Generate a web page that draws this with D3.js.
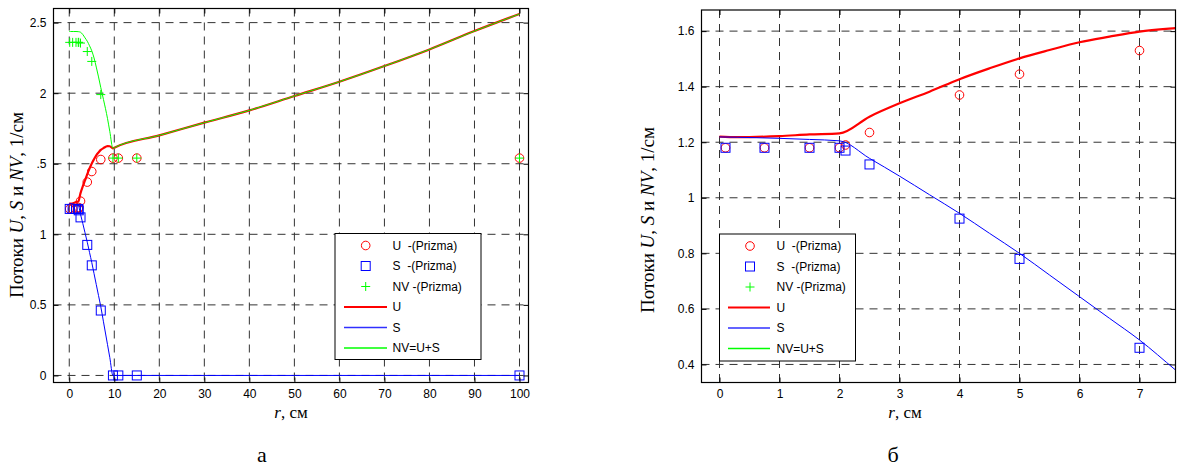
<!DOCTYPE html>
<html>
<head>
<meta charset="utf-8">
<script src="https://cdn.jsdelivr.net/npm/d3@7"></script>
<style>
body { margin: 0; background: #fff; }
svg { display: block; }
text { font-family: "Liberation Sans", Arial, sans-serif; }
.serif { font-family: "Liberation Serif", "Times New Roman", serif; }
</style>
</head>
<body>
<div id="chart"></div>
<script>
// computed curves (r, cm)
const rCurve  = [0, 0.3, 1, 1.5, 2, 2.5, 3, 3.5, 4, 4.5, 5, 5.5, 6, 6.5, 7, 7.6, 8.5, 9, 9.7, 10, 20, 30, 40, 50, 60, 70, 80, 90, 100];
const uCurve  = [1.220, 1.218, 1.222, 1.228, 1.232, 1.292, 1.340, 1.382, 1.427, 1.466, 1.502, 1.532, 1.560, 1.580, 1.598, 1.611, 1.625, 1.624, 1.609, 1.614, 1.701, 1.791, 1.878, 1.980, 2.081, 2.192, 2.310, 2.440, 2.561];
const sCurve  = [1.219, 1.218, 1.214, 1.210, 1.205, 1.142, 1.078, 1.011, 0.944, 0.872, 0.800, 0.722, 0.644, 0.566, 0.488, 0.380, 0.218, 0.128, 0, 0, 0, 0, 0, 0, 0, 0, 0, 0, 0];
const nvCurve = [2.438, 2.437, 2.437, 2.437, 2.436, 2.432, 2.416, 2.392, 2.368, 2.336, 2.300, 2.250, 2.185, 2.115, 2.040, 1.955, 1.820, 1.730, 1.609, 1.614, 1.701, 1.791, 1.878, 1.980, 2.081, 2.192, 2.310, 2.440, 2.561];

// Prizma points
const rPrizma  = [0.1, 0.75, 1.5, 2.0, 2.1, 2.5, 4, 5, 7, 9.7, 10.9, 15, 100];
const uPrizma  = [1.18, 1.18, 1.18, 1.18, 1.19, 1.235, 1.37, 1.445, 1.53, 1.54, 1.54, 1.54, 1.54];
const sPrizma  = [1.18, 1.18, 1.18, 1.18, 1.17, 1.12, 0.925, 0.78, 0.46, 0, 0, 0, 0];
const nvPrizma = [2.36, 2.36, 2.36, 2.36, 2.36, 2.355, 2.295, 2.225, 1.99, 1.54, 1.54, 1.54, 1.54];

// axes
const xTicksA = [0, 10, 20, 30, 40, 50, 60, 70, 80, 90, 100];
const yTicksA = [0, 0.5, 1, 1.5, 2, 2.5];
const yTickLabelsA = ["0", "0.5", "1", ".5", "2", "2.5"];
const xTicksB = [0, 1, 2, 3, 4, 5, 6, 7];
const yTicksB = [0.4, 0.6, 0.8, 1, 1.2, 1.4, 1.6];
const yTickLabelsB = ["0.4", "0.6", "0.8", "1", "1.2", "1.4", "1.6"];

const legendLabels = ["U  -(Prizma)", "S  -(Prizma)", "NV -(Prizma)", "U", "S", "NV=U+S"];

const RED = "#ff0000", BLUE = "#0000ff", GREEN = "#00ff00";

const svg = d3.select("#chart").append("svg")
    .attr("width", 1184)
    .attr("height", 468);

const curve = rCurve.map((r, i) => ({ r: r, u: uCurve[i], s: sCurve[i], nv: nvCurve[i] }));
const pts = rPrizma.map((r, i) => ({ r: r, u: uPrizma[i], s: sPrizma[i], nv: nvPrizma[i] }));

function drawPanel(p) {
    const x = d3.scaleLinear().domain(p.xDomain).range(p.xRange);
    const y = d3.scaleLinear().domain(p.yDomain).range(p.yRange);
    const g = svg.append("g");
    const left = p.xRange[0], right = p.xRange[1], top = p.yRange[1], bottom = p.yRange[0];

    g.append("clipPath").attr("id", p.id + "-clip")
        .append("rect")
        .attr("x", left).attr("y", top)
        .attr("width", right - left).attr("height", bottom - top);

    // grid
    g.append("g").selectAll("line").data(p.xTicks).join("line")
        .attr("x1", d => x(d)).attr("x2", d => x(d))
        .attr("y1", top).attr("y2", bottom)
        .attr("stroke", "#333").attr("stroke-dasharray", "8,6");
    g.append("g").selectAll("line").data(p.yTicks).join("line")
        .attr("x1", left).attr("x2", right)
        .attr("y1", d => y(d)).attr("y2", d => y(d))
        .attr("stroke", "#333").attr("stroke-dasharray", "8,6");

    const plot = g.append("g").attr("clip-path", `url(#${p.id}-clip)`);

    plot.selectAll("circle.u").data(pts).join("circle")
        .attr("class", "u")
        .attr("cx", d => x(d.r)).attr("cy", d => y(d.u)).attr("r", 4.3)
        .attr("fill", "none").attr("stroke", RED);
    plot.selectAll("rect.s").data(pts).join("rect")
        .attr("class", "s")
        .attr("x", d => x(d.r) - 4.5).attr("y", d => y(d.s) - 4.5)
        .attr("width", 9).attr("height", 9)
        .attr("fill", "none").attr("stroke", BLUE);
    plot.selectAll("path.nv").data(pts).join("path")
        .attr("class", "nv")
        .attr("d", d => `M${x(d.r) - 4.5},${y(d.nv)}h9M${x(d.r)},${y(d.nv) - 4.5}v9`)
        .attr("stroke", GREEN);

    const line = key => d3.line().x(d => x(d.r)).y(d => y(d[key])).curve(d3.curveMonotoneX);
    plot.append("path").datum(curve)
        .attr("fill", "none").attr("stroke", RED).attr("stroke-width", 2.2)
        .attr("d", line("u"));
    plot.append("path").datum(curve)
        .attr("fill", "none").attr("stroke", BLUE).attr("stroke-width", 1)
        .attr("d", line("s"));
    plot.append("path").datum(curve)
        .attr("fill", "none").attr("stroke", GREEN).attr("stroke-width", 1)
        .attr("d", line("nv"));

    // axes, ticks inside on all four sides
    const fmtY = d => p.yLabels[p.yTicks.indexOf(d)];
    const ax = a => a.tickSizeInner(-5).tickSizeOuter(0).tickPadding(7);
    const bx = g.append("g").attr("transform", `translate(0,${bottom})`)
        .call(ax(d3.axisBottom(x).tickValues(p.xTicks).tickFormat(d3.format("d"))));
    const ly = g.append("g").attr("transform", `translate(${left},0)`)
        .call(ax(d3.axisLeft(y).tickValues(p.yTicks).tickFormat(fmtY)));
    const tx = g.append("g").attr("transform", `translate(0,${top})`)
        .call(ax(d3.axisTop(x).tickValues(p.xTicks).tickFormat("")));
    const ry = g.append("g").attr("transform", `translate(${right},0)`)
        .call(ax(d3.axisRight(y).tickValues(p.yTicks).tickFormat("")));
    [bx, ly, tx, ry].forEach(a => {
        a.select(".domain").remove();
        a.selectAll("line").attr("stroke", "#000");
        a.selectAll("text").attr("font-size", 12).attr("fill", "#000")
            .style("font-family", "'Liberation Sans', Arial, sans-serif");
    });

    g.append("rect")
        .attr("x", left).attr("y", top)
        .attr("width", right - left).attr("height", bottom - top)
        .attr("fill", "none").attr("stroke", "#000").attr("stroke-width", 1.2);

    // legend
    const L = p.legend;
    const lg = g.append("g");
    lg.append("rect")
        .attr("x", L.x).attr("y", L.y).attr("width", L.w).attr("height", L.h)
        .attr("fill", "#fff").attr("stroke", "#000");
    const rowY = i => L.y + 12 + i * 20.5;
    lg.append("circle").attr("cx", L.mx).attr("cy", rowY(0)).attr("r", 4.3)
        .attr("fill", "none").attr("stroke", RED);
    lg.append("rect").attr("x", L.mx - 4.5).attr("y", rowY(1) - 4.5).attr("width", 9).attr("height", 9)
        .attr("fill", "none").attr("stroke", BLUE);
    lg.append("path").attr("d", `M${L.mx - 4.5},${rowY(2)}h9M${L.mx},${rowY(2) - 4.5}v9`)
        .attr("stroke", GREEN);
    [[RED, 2.2], ["#3030ff", 1.3], [GREEN, 1.3]].forEach((c, i) => {
        lg.append("line")
            .attr("x1", L.l1).attr("x2", L.l2)
            .attr("y1", rowY(3 + i)).attr("y2", rowY(3 + i))
            .attr("stroke", c[0]).attr("stroke-width", c[1]);
    });
    lg.selectAll("text.lab").data(legendLabels).join("text")
        .attr("class", "lab")
        .attr("x", L.tx).attr("y", (d, i) => rowY(i))
        .attr("dy", "0.36em")
        .attr("font-size", 12)
        .attr("xml:space", "preserve")
        .style("white-space", "pre")
        .text(d => d);

    // axis titles
    const xl = g.append("text").attr("class", "serif")
        .attr("x", p.xLabelPos[0]).attr("y", p.xLabelPos[1])
        .attr("text-anchor", "middle").attr("font-size", 17);
    xl.append("tspan").attr("font-style", "italic").text("r");
    xl.append("tspan").text(", см");

    const yl = g.append("text").attr("class", "serif")
        .attr("transform", `translate(${p.yLabelPos[0]},${p.yLabelPos[1]}) rotate(-90)`)
        .attr("text-anchor", "middle").attr("font-size", 19);
    [["Потоки ", false], ["U", true], [", ", false], ["S", true], [" и ", false], ["NV", true], [", 1/см", false]]
        .forEach(s => yl.append("tspan").attr("font-style", s[1] ? "italic" : "normal")
            .attr("xml:space", "preserve").text(s[0]));

    g.append("text").attr("class", "serif")
        .attr("x", p.capPos[0]).attr("y", p.capPos[1])
        .attr("text-anchor", "middle").attr("font-size", 22)
        .text(p.caption);
}

drawPanel({
    id: "a",
    xDomain: [-3.5, 102], xRange: [53.5, 528.5],
    yDomain: [-0.05, 2.6], yRange: [382.5, 8.5],
    xTicks: xTicksA, yTicks: yTicksA, yLabels: yTickLabelsA,
    legend: { x: 335, y: 233.5, w: 146, h: 126, mx: 365.7, tx: 392.5, l1: 344, l2: 387 },
    xLabelPos: [291, 418], yLabelPos: [23, 205], capPos: [262, 462], caption: "а"
});

drawPanel({
    id: "b",
    xDomain: [-0.3, 7.6], xRange: [701.5, 1175.5],
    yDomain: [0.335, 1.676], yRange: [382.5, 10],
    xTicks: xTicksB, yTicks: yTicksB, yLabels: yTickLabelsB,
    legend: { x: 719.5, y: 234, w: 136, h: 127, mx: 750, tx: 776.5, l1: 728, l2: 770 },
    xLabelPos: [905, 418], yLabelPos: [654, 220], capPos: [893, 462], caption: "б"
});
</script>
</body>
</html>
